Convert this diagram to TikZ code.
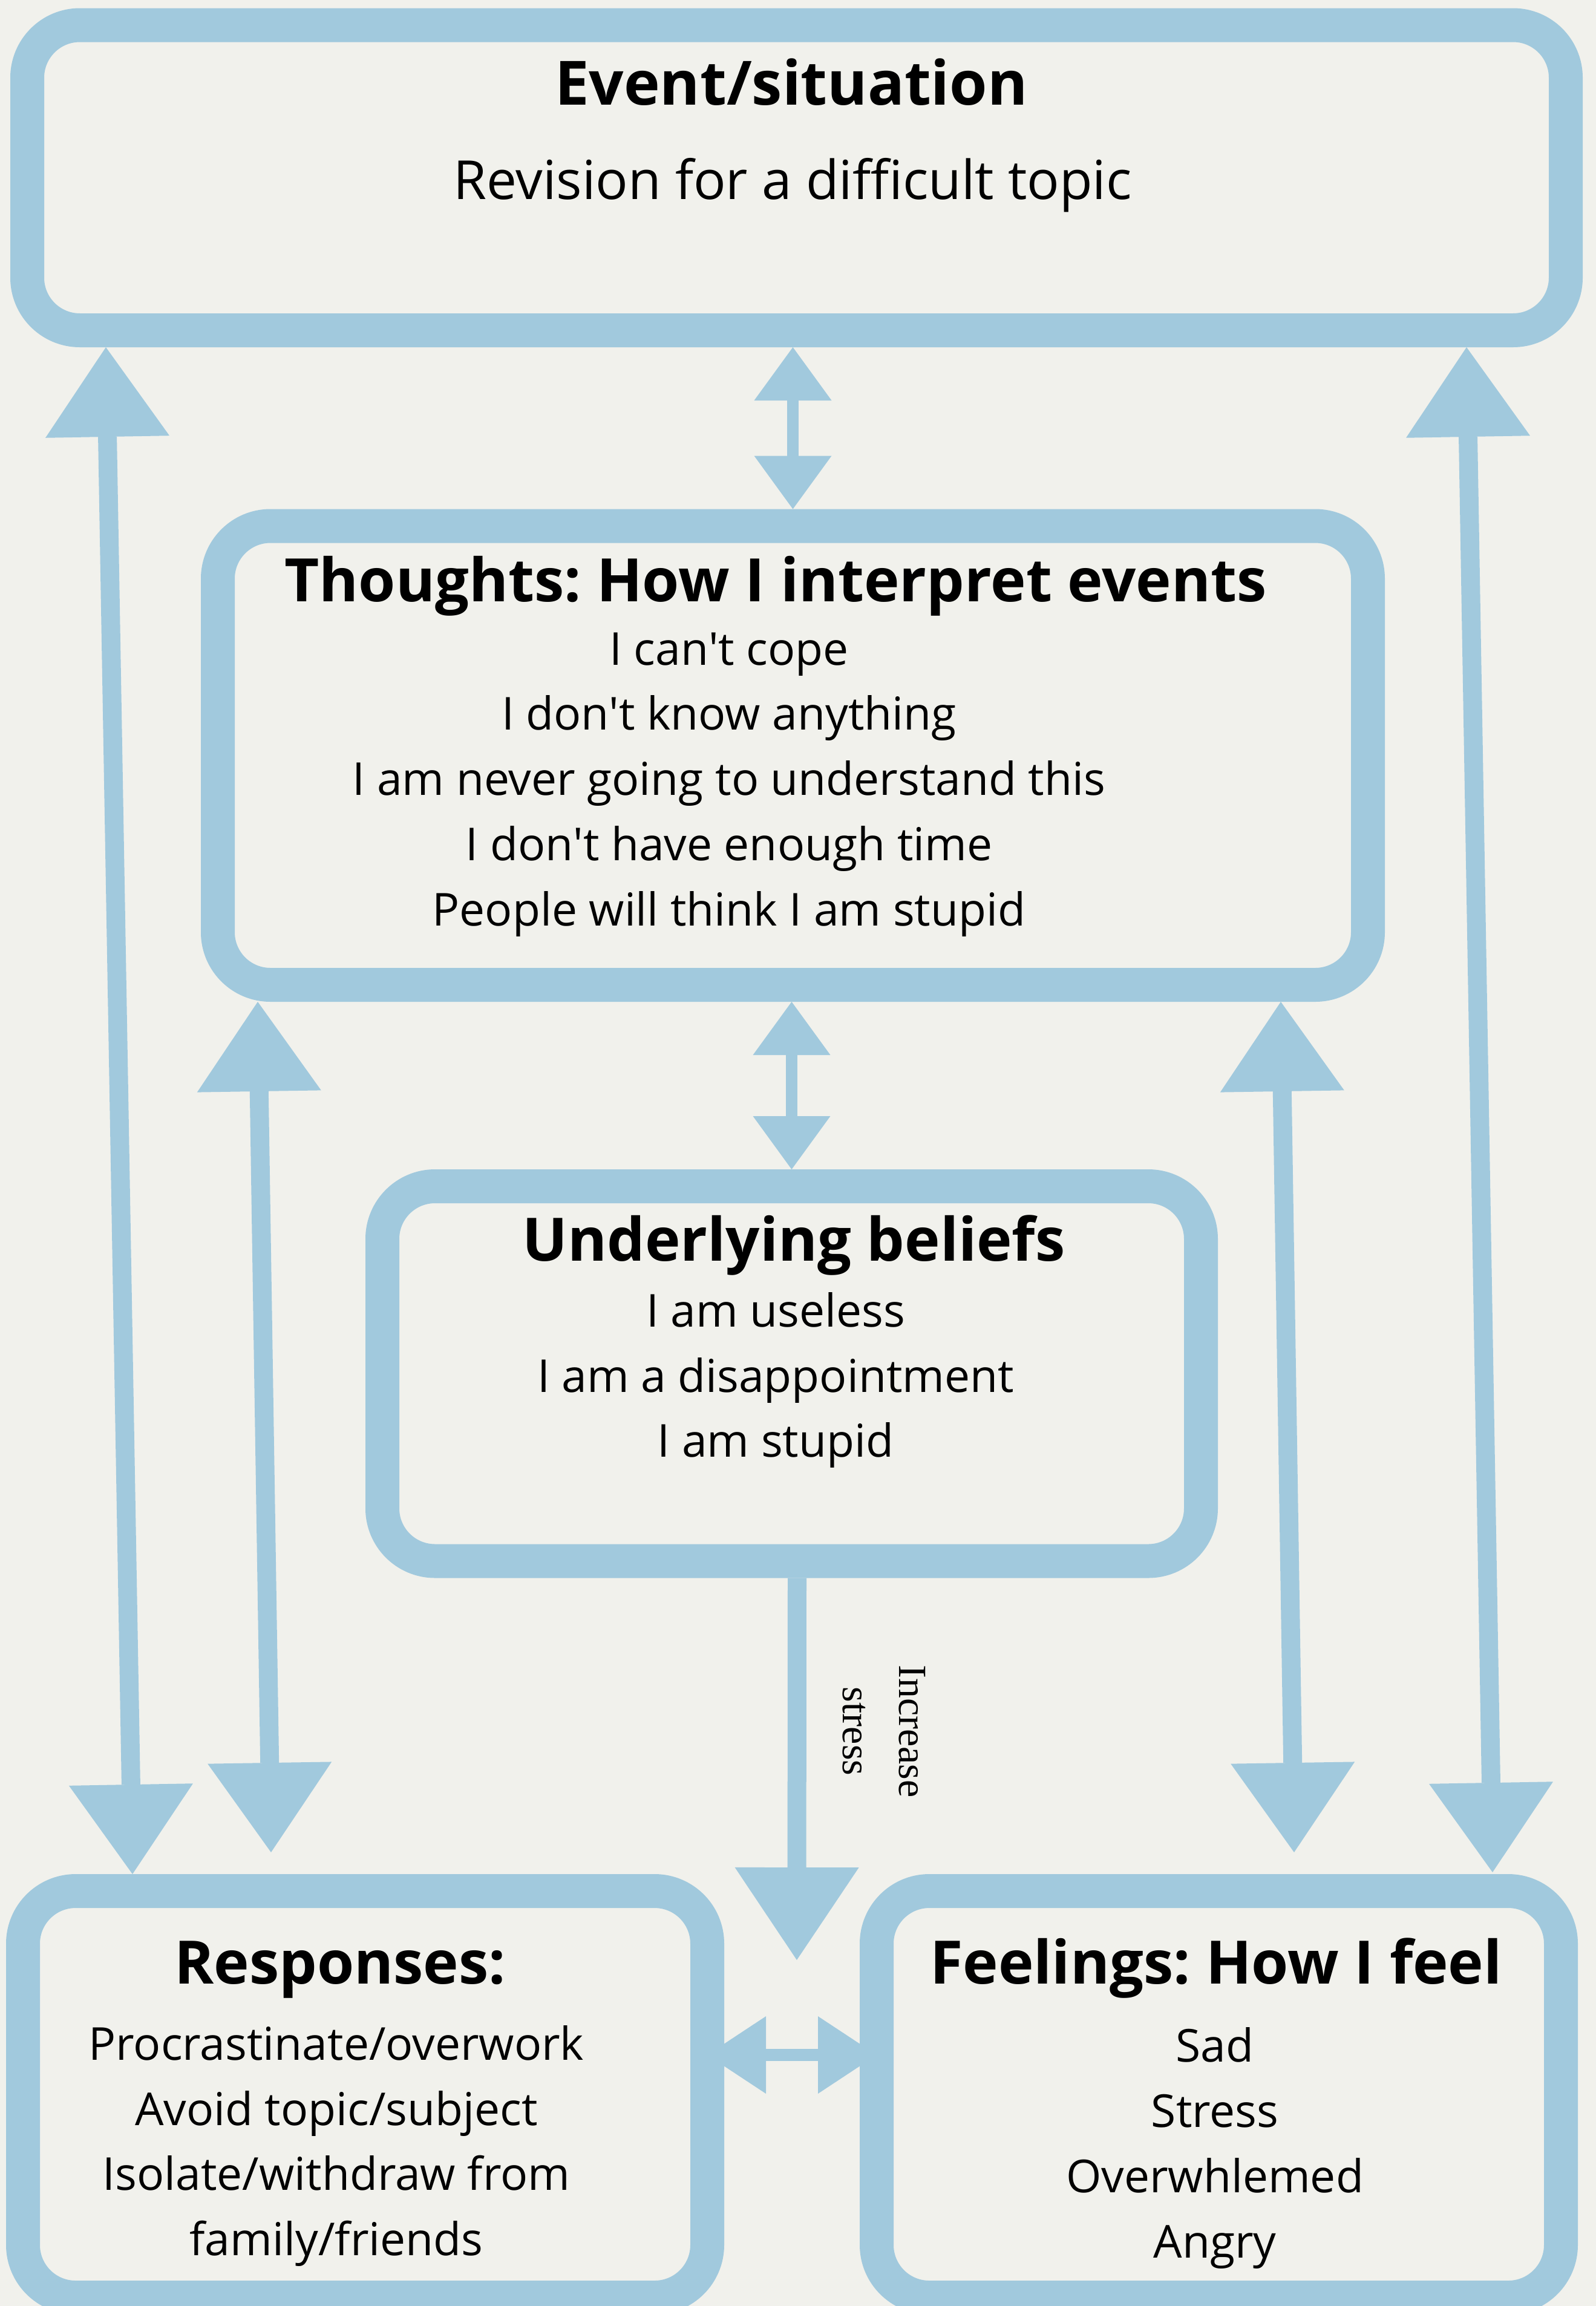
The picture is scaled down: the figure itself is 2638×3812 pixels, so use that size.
\documentclass[tikz,border=0pt]{standalone}
\usepackage{fontspec}
\setmainfont{Open Sans}
\newfontfamily\notefont{Liberation Serif}
\usetikzlibrary{arrows.meta}
\definecolor{boxblue}{HTML}{A1C9DD}
\definecolor{paper}{HTML}{F1F1EC}
\frenchspacing

\begin{document}
\begin{tikzpicture}[x=1pt, y=-1pt,
	panel/.style={draw=boxblue, fill=paper, line width=56pt, rounded corners=87pt, inner sep=0pt},
	heading/.style={font=\fontsize{99}{120}\selectfont\bfseries, anchor=base, inner sep=0pt},
	lines/.style={font=\fontsize{75}{107.7}\selectfont, align=center, anchor=base, inner sep=0pt},
	bigarrow/.style={color=boxblue, line width=31pt, >={Triangle[width=205pt,length=148pt,line width=0pt]}, <->},
	smallarrow/.style={color=boxblue, line width=19pt, >={Triangle[width=128pt,length=88pt,line width=0pt]}, <->},
	sidearrow/.style={color=boxblue, line width=20pt, >={Triangle[width=128pt,length=97pt,line width=0pt]}, <->},
	stressarrow/.style={color=boxblue, line width=31pt, >={Triangle[width=205pt,length=153pt,line width=0pt]}, ->}]
	\useasboundingbox (0,0) rectangle (2638,3812);
	\clip (0,0) rectangle (2638,3812);
	\fill[paper] (0,0) rectangle (2638,3812);
	
	\node[panel, minimum width=2543pt, minimum height=504.5pt] (event) at (1316.5,293.75) {};
	\node[panel, minimum width=1901pt, minimum height=758.5pt] (thoughts) at (1310.5,1248.75) {};
	\node[panel, minimum width=1353pt, minimum height=619.5pt] (beliefs) at (1308.5,2270.75) {};
	\node[panel, minimum width=1131pt, minimum height=672pt] (responses) at (603.5,3462) {};
	\node[panel, minimum width=1131pt, minimum height=672pt] (feelings) at (2014.5,3462) {};
	
	\node[heading, font=\fontsize{101}{120}\selectfont\bfseries] (eventtitle) at (1308,173) {Event/situation};
	\node[lines, font=\fontsize{89}{110}\selectfont] (eventtext) at (1310,329) {Revision for a difficult topic};
	
	\node[heading] (thoughtstitle) at (1282,994) {Thoughts: How I interpret events};
	\node[lines] (thoughtstext) at (1205,1530) {I can\textquotesingle t cope\\I don\textquotesingle t know anything\\I am never going to understand this\\I don\textquotesingle t have enough time\\People will think I am stupid};
	
	\node[heading] (beliefstitle) at (1312,2084) {Underlying beliefs};
	\node[lines] (beliefstext) at (1282,2408.7) {I am useless\\I am a disappointment\\I am stupid};
	
	\node[heading] (responsestitle) at (562,3279) {Responses:};
	\node[lines] (responsestext) at (556,3728.5) {Procrastinate/overwork\\Avoid topic/subject\\Isolate/withdraw from\\family/friends};
	
	\node[heading] (feelingstitle) at (2010,3279.5) {Feelings: How I feel};
	\node[lines] (feelingstext) at (2008,3732) {Sad\\Stress\\Overwhlemed\\Angry};
	
	\node[rotate=-90, anchor=base, align=center, inner sep=0pt, font=\notefont\fontsize{66}{93}\selectfont] (stresslabel) at (1393,2862) {Increase\\stress};
	\coordinate (stresstip) at (1317,3240);
	
	\draw[bigarrow] ([xshift=209pt]responses.north west) -- ([xshift=158pt]event.south west);
	\draw[bigarrow] ([xshift=438pt,yshift=36pt]responses.north west) -- ([xshift=94pt]thoughts.south west);
	\draw[bigarrow] ([xshift=718pt,yshift=36pt]feelings.north west) -- ([xshift=-172pt]thoughts.south east);
	\draw[bigarrow] ([xshift=-141pt,yshift=3pt]feelings.north east) -- ([xshift=-192pt]event.south east);
	\draw[smallarrow] (thoughts.north) -- (thoughts.north |- event.south);
	\draw[smallarrow] (beliefs.north) -- (beliefs.north |- thoughts.south);
	\draw[stressarrow] ([xshift=9pt]beliefs.south) -- (stresstip);
	\draw[sidearrow] ([xshift=-28pt,yshift=65pt]responses.east) -- ([xshift=28pt,yshift=65pt]feelings.west);
\end{tikzpicture}
\end{document}
